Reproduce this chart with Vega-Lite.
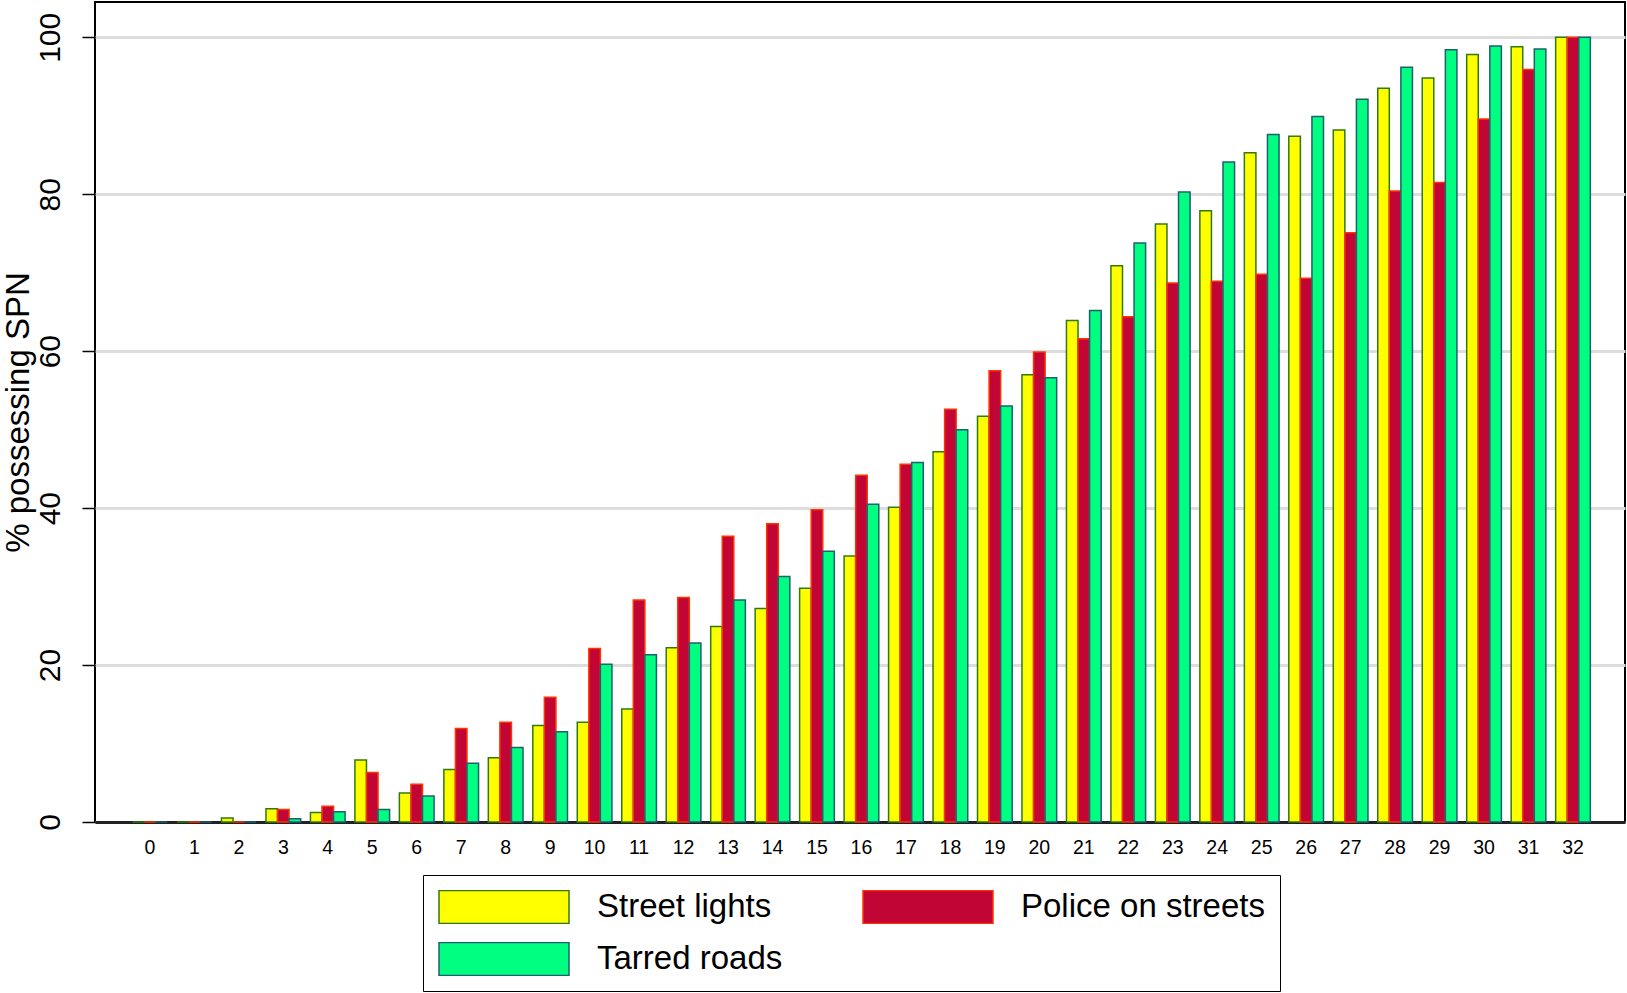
{
  "$schema": "https://vega.github.io/schema/vega-lite/v6.json",
  "autosize": "none",
  "padding": {"left": 95, "top": 2, "right": 2, "bottom": 171},
  "width": 1530,
  "height": 820,
  "background": "white",
  "config": {
    "font": "Liberation Sans",
    "view": {"stroke": "black", "strokeWidth": 2},
    "axis": {"labelFont": "Liberation Sans", "titleFont": "Liberation Sans", "labelColor": "black", "titleColor": "black"}
  },
  "data": {
    "values": [
      {"n": 0, "series": "Street lights", "pct": 0}, {"n": 0, "series": "Police on streets", "pct": 0}, {"n": 0, "series": "Tarred roads", "pct": 0},
      {"n": 1, "series": "Street lights", "pct": 0}, {"n": 1, "series": "Police on streets", "pct": 0}, {"n": 1, "series": "Tarred roads", "pct": 0},
      {"n": 2, "series": "Street lights", "pct": 0.5}, {"n": 2, "series": "Police on streets", "pct": 0}, {"n": 2, "series": "Tarred roads", "pct": 0},
      {"n": 3, "series": "Street lights", "pct": 1.7}, {"n": 3, "series": "Police on streets", "pct": 1.6}, {"n": 3, "series": "Tarred roads", "pct": 0.4},
      {"n": 4, "series": "Street lights", "pct": 1.2}, {"n": 4, "series": "Police on streets", "pct": 2.0}, {"n": 4, "series": "Tarred roads", "pct": 1.3},
      {"n": 5, "series": "Street lights", "pct": 7.9}, {"n": 5, "series": "Police on streets", "pct": 6.3}, {"n": 5, "series": "Tarred roads", "pct": 1.6},
      {"n": 6, "series": "Street lights", "pct": 3.7}, {"n": 6, "series": "Police on streets", "pct": 4.8}, {"n": 6, "series": "Tarred roads", "pct": 3.3},
      {"n": 7, "series": "Street lights", "pct": 6.7}, {"n": 7, "series": "Police on streets", "pct": 11.9}, {"n": 7, "series": "Tarred roads", "pct": 7.5},
      {"n": 8, "series": "Street lights", "pct": 8.2}, {"n": 8, "series": "Police on streets", "pct": 12.7}, {"n": 8, "series": "Tarred roads", "pct": 9.5},
      {"n": 9, "series": "Street lights", "pct": 12.3}, {"n": 9, "series": "Police on streets", "pct": 15.9}, {"n": 9, "series": "Tarred roads", "pct": 11.5},
      {"n": 10, "series": "Street lights", "pct": 12.7}, {"n": 10, "series": "Police on streets", "pct": 22.1}, {"n": 10, "series": "Tarred roads", "pct": 20.1},
      {"n": 11, "series": "Street lights", "pct": 14.4}, {"n": 11, "series": "Police on streets", "pct": 28.3}, {"n": 11, "series": "Tarred roads", "pct": 21.3},
      {"n": 12, "series": "Street lights", "pct": 22.2}, {"n": 12, "series": "Police on streets", "pct": 28.6}, {"n": 12, "series": "Tarred roads", "pct": 22.8},
      {"n": 13, "series": "Street lights", "pct": 24.9}, {"n": 13, "series": "Police on streets", "pct": 36.4}, {"n": 13, "series": "Tarred roads", "pct": 28.3},
      {"n": 14, "series": "Street lights", "pct": 27.2}, {"n": 14, "series": "Police on streets", "pct": 38.0}, {"n": 14, "series": "Tarred roads", "pct": 31.3},
      {"n": 15, "series": "Street lights", "pct": 29.8}, {"n": 15, "series": "Police on streets", "pct": 39.8}, {"n": 15, "series": "Tarred roads", "pct": 34.5},
      {"n": 16, "series": "Street lights", "pct": 33.9}, {"n": 16, "series": "Police on streets", "pct": 44.2}, {"n": 16, "series": "Tarred roads", "pct": 40.5},
      {"n": 17, "series": "Street lights", "pct": 40.1}, {"n": 17, "series": "Police on streets", "pct": 45.6}, {"n": 17, "series": "Tarred roads", "pct": 45.8},
      {"n": 18, "series": "Street lights", "pct": 47.2}, {"n": 18, "series": "Police on streets", "pct": 52.6}, {"n": 18, "series": "Tarred roads", "pct": 50.0},
      {"n": 19, "series": "Street lights", "pct": 51.7}, {"n": 19, "series": "Police on streets", "pct": 57.5}, {"n": 19, "series": "Tarred roads", "pct": 53.0},
      {"n": 20, "series": "Street lights", "pct": 57.0}, {"n": 20, "series": "Police on streets", "pct": 59.9}, {"n": 20, "series": "Tarred roads", "pct": 56.6},
      {"n": 21, "series": "Street lights", "pct": 63.9}, {"n": 21, "series": "Police on streets", "pct": 61.6}, {"n": 21, "series": "Tarred roads", "pct": 65.2},
      {"n": 22, "series": "Street lights", "pct": 70.9}, {"n": 22, "series": "Police on streets", "pct": 64.4}, {"n": 22, "series": "Tarred roads", "pct": 73.8},
      {"n": 23, "series": "Street lights", "pct": 76.2}, {"n": 23, "series": "Police on streets", "pct": 68.7}, {"n": 23, "series": "Tarred roads", "pct": 80.3},
      {"n": 24, "series": "Street lights", "pct": 77.9}, {"n": 24, "series": "Police on streets", "pct": 68.9}, {"n": 24, "series": "Tarred roads", "pct": 84.1},
      {"n": 25, "series": "Street lights", "pct": 85.3}, {"n": 25, "series": "Police on streets", "pct": 69.8}, {"n": 25, "series": "Tarred roads", "pct": 87.6},
      {"n": 26, "series": "Street lights", "pct": 87.4}, {"n": 26, "series": "Police on streets", "pct": 69.3}, {"n": 26, "series": "Tarred roads", "pct": 89.9},
      {"n": 27, "series": "Street lights", "pct": 88.2}, {"n": 27, "series": "Police on streets", "pct": 75.1}, {"n": 27, "series": "Tarred roads", "pct": 92.1},
      {"n": 28, "series": "Street lights", "pct": 93.5}, {"n": 28, "series": "Police on streets", "pct": 80.4}, {"n": 28, "series": "Tarred roads", "pct": 96.2},
      {"n": 29, "series": "Street lights", "pct": 94.8}, {"n": 29, "series": "Police on streets", "pct": 81.5}, {"n": 29, "series": "Tarred roads", "pct": 98.4},
      {"n": 30, "series": "Street lights", "pct": 97.8}, {"n": 30, "series": "Police on streets", "pct": 89.6}, {"n": 30, "series": "Tarred roads", "pct": 98.9},
      {"n": 31, "series": "Street lights", "pct": 98.8}, {"n": 31, "series": "Police on streets", "pct": 95.9}, {"n": 31, "series": "Tarred roads", "pct": 98.5},
      {"n": 32, "series": "Street lights", "pct": 100}, {"n": 32, "series": "Police on streets", "pct": 100}, {"n": 32, "series": "Tarred roads", "pct": 100}
    ]
  },
  "mark": {"type": "bar", "strokeWidth": 1.5},
  "encoding": {
    "x": {
      "field": "n", "type": "ordinal",
      "scale": {"paddingInner": 0.22, "paddingOuter": 0.812, "align": 0.52},
      "axis": {"title": null, "labelAngle": 0, "labelFontSize": 19.5, "labelPadding": 16, "ticks": false, "domain": true, "domainColor": "#222", "domainWidth": 3, "grid": false}
    },
    "xOffset": {"field": "series", "type": "nominal", "sort": ["Street lights", "Police on streets", "Tarred roads"], "scale": {"paddingInner": 0, "paddingOuter": 0}},
    "y": {
      "field": "pct", "type": "quantitative",
      "scale": {"domain": [0, 104.5], "nice": false, "zero": true},
      "axis": {"title": "% possessing SPN", "titleFontSize": 33, "titleFontWeight": "normal", "titlePadding": 0, "values": [0, 20, 40, 60, 80, 100], "labelAngle": 270, "labelFontSize": 30, "labelPadding": 17, "tickSize": 13, "tickWidth": 1.5, "tickColor": "black", "domain": false, "grid": true, "gridColor": "#dddddd", "gridWidth": 3}
    },
    "fill": {
      "field": "series", "type": "nominal", "sort": ["Street lights", "Police on streets", "Tarred roads"],
      "scale": {"domain": ["Street lights", "Police on streets", "Tarred roads"], "range": ["#ffff00", "#c10535", "#00ff80"]},
      "legend": {
        "title": null, "orient": "none", "direction": "horizontal", "legendX": 328, "legendY": 873, "columns": 2,
        "strokeColor": "black", "padding": 15, "labelFontSize": 33, "labelFont": "Liberation Sans", "labelColor": "black", "labelLimit": 400,
        "labelOffset": 27, "rowPadding": 18, "columnPadding": 79, "clipHeight": 34,
        "symbolType": "M-1,-0.2538H1V0.2538H-1Z", "symbolSize": 16900, "symbolStrokeWidth": 1.5, "symbolOpacity": 1
      }
    },
    "stroke": {
      "field": "series", "type": "nominal", "sort": ["Street lights", "Police on streets", "Tarred roads"],
      "scale": {"domain": ["Street lights", "Police on streets", "Tarred roads"], "range": ["#2f7a10", "#ff3300", "#1f5f70"]},
      "legend": {
        "title": null, "orient": "none", "direction": "horizontal", "legendX": 328, "legendY": 873, "columns": 2,
        "strokeColor": "black", "padding": 15, "labelFontSize": 33, "labelFont": "Liberation Sans", "labelColor": "black", "labelLimit": 400,
        "labelOffset": 27, "rowPadding": 18, "columnPadding": 79, "clipHeight": 34,
        "symbolType": "M-1,-0.2538H1V0.2538H-1Z", "symbolSize": 16900, "symbolStrokeWidth": 1.5, "symbolOpacity": 1
      }
    }
  }
}
